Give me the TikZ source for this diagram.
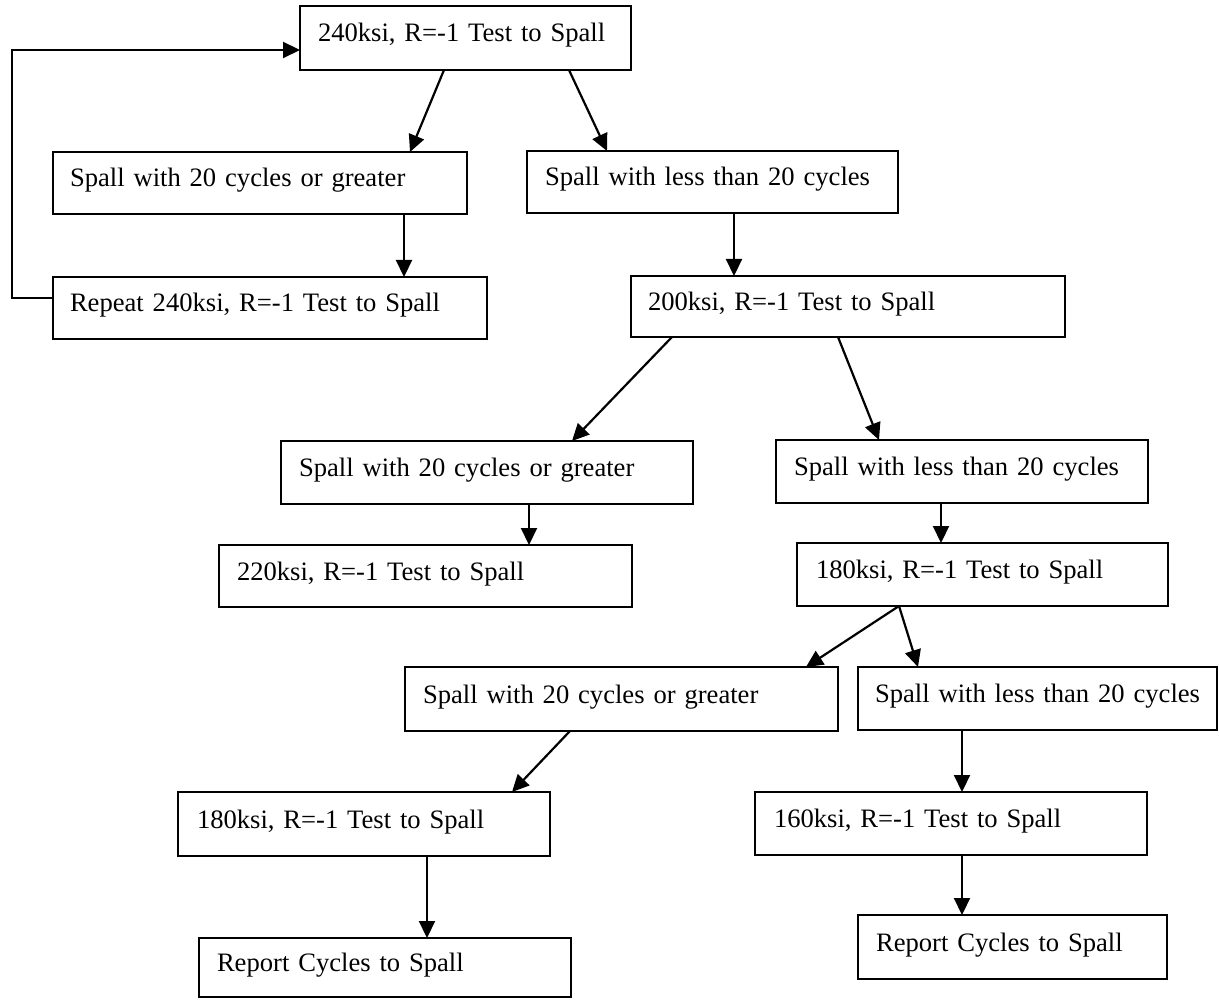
\documentclass[tikz,border=0pt]{standalone}
\usepackage{fontspec}
\setmainfont{Liberation Serif}
\usetikzlibrary{arrows.meta}
\begin{document}
\begin{tikzpicture}[x=1pt,y=-1pt,
  box/.style={draw, line width=2.4pt, outer sep=0pt, anchor=north west,
    inner ysep=0pt, align=left, text height=18pt, text depth=10pt,
    font=\fontsize{26.6}{32}\selectfont,
    execute at begin node={\hbox\bgroup}, execute at end node={\egroup}},
  arr/.style={line width=2.2pt, -{Triangle[length=17pt,width=16pt]}}]
\useasboundingbox (0,0) rectangle (1219,1000);
\node[box, minimum width=331, minimum height=64, inner xsep=18, text width=295] (b1) at (300,6) {240ksi, R=-1 Test to Spall};
\node[box, minimum width=414, minimum height=62, inner xsep=17, text width=380] (b2) at (53,152) {Spall with 20 cycles or greater};
\node[box, minimum width=371, minimum height=62, inner xsep=18, text width=335] (b3) at (527,151) {Spall with less than 20 cycles};
\node[box, minimum width=434, minimum height=62, inner xsep=17, text width=400] (b4) at (53,277) {Repeat 240ksi, R=-1 Test to Spall};
\node[box, minimum width=434, minimum height=61, inner xsep=17, text width=400] (b5) at (631,276) {200ksi, R=-1 Test to Spall};
\node[box, minimum width=412, minimum height=63, inner xsep=18, text width=376] (b6) at (281,441) {Spall with 20 cycles or greater};
\node[box, minimum width=372, minimum height=63, inner xsep=18, text width=336] (b7) at (776,440) {Spall with less than 20 cycles};
\node[box, minimum width=413, minimum height=62, inner xsep=18, text width=377] (b8) at (219,545) {220ksi, R=-1 Test to Spall};
\node[box, minimum width=371, minimum height=63, inner xsep=19, text width=333] (b9) at (797,543) {180ksi, R=-1 Test to Spall};
\node[box, minimum width=433, minimum height=64, inner xsep=18, text width=397] (b10) at (405,667) {Spall with 20 cycles or greater};
\node[box, minimum width=359, minimum height=63, inner xsep=17, text width=325] (b11) at (858,667) {Spall with less than 20 cycles};
\node[box, minimum width=372, minimum height=64, inner xsep=19, text width=334] (b12) at (178,792) {180ksi, R=-1 Test to Spall};
\node[box, minimum width=392, minimum height=63, inner xsep=19, text width=354] (b13) at (755,792) {160ksi, R=-1 Test to Spall};
\node[box, minimum width=372, minimum height=59, inner xsep=18, text width=336] (b14) at (199,938) {Report Cycles to Spall};
\node[box, minimum width=309, minimum height=64, inner xsep=18, text width=273] (b15) at (858,915) {Report Cycles to Spall};

\draw[arr] ([xshift=144pt]b1.south west) -- ([xshift=357pt]b2.north west);
\draw[arr] ([xshift=269pt]b1.south west) -- ([xshift=80pt]b3.north west);
\draw[arr] ([xshift=351pt]b2.south west) -- ([xshift=351pt]b4.north west);
\draw[arr] ([yshift=10pt]b4.west) -- ++(-41,0) |- ([yshift=-12pt]b1.west);
\draw[arr] ([xshift=207pt]b3.south west) -- ([xshift=103pt]b5.north west);
\draw[arr] ([xshift=41pt]b5.south west) -- ([xshift=291pt]b6.north west);
\draw[arr] ([xshift=207pt]b5.south west) -- ([xshift=103pt]b7.north west);
\draw[arr] ([xshift=248pt]b6.south west) -- ([xshift=310pt]b8.north west);
\draw[arr] ([xshift=165pt]b7.south west) -- ([xshift=144pt]b9.north west);
\draw[arr] ([xshift=102pt]b9.south west) -- ([xshift=401pt]b10.north west);
\draw[arr] ([xshift=102pt]b9.south west) -- ([xshift=60pt]b11.north west);
\draw[arr] ([xshift=165pt]b10.south west) -- ([xshift=334pt]b12.north west);
\draw[arr] ([xshift=104pt]b11.south west) -- ([xshift=207pt]b13.north west);
\draw[arr] ([xshift=249pt]b12.south west) -- ([xshift=228pt]b14.north west);
\draw[arr] ([xshift=207pt]b13.south west) -- ([xshift=104pt]b15.north west);
\end{tikzpicture}
\end{document}
